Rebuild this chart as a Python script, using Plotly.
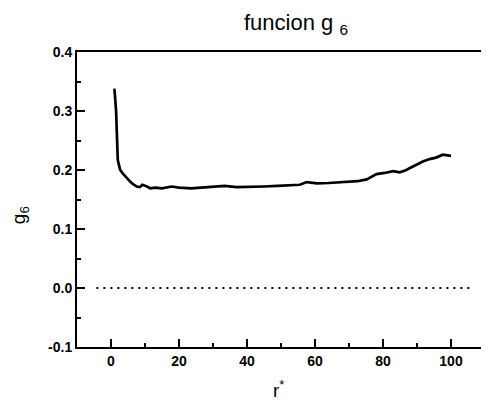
import plotly.graph_objects as go

# data
r_star = [1.0, 1.5, 1.75, 2.0, 2.4, 2.7, 3.5, 4.2, 5.0, 5.7, 6.5, 7.6, 8.5, 9.2, 10.2,
          11.5, 13, 15, 17.8, 20, 23.6, 26, 30, 33.4, 37, 41, 45, 49, 53, 55.5,
          57.6, 60.6, 64, 67.4, 70, 72.5, 75.2, 76.5, 78.1, 80.5, 83, 84.9, 86.5,
          87.8, 89.5, 91.7, 93.7, 95.6, 97.6, 98.5, 100]
g6 = [0.338, 0.300, 0.257, 0.217, 0.207, 0.200, 0.194, 0.189, 0.184, 0.180, 0.176,
      0.172, 0.171, 0.175, 0.173, 0.169, 0.170, 0.169, 0.172, 0.170, 0.169, 0.170,
      0.171, 0.173, 0.171, 0.171, 0.172, 0.173, 0.175, 0.175, 0.1795, 0.1775,
      0.178, 0.179, 0.180, 0.181, 0.184, 0.188, 0.193, 0.195, 0.198, 0.196, 0.199,
      0.203, 0.208, 0.2145, 0.2185, 0.221, 0.226, 0.225, 0.224]
zero_x = [-4.3, 105.5]
zero_y = [0.0, 0.0]

x_tickvals = [0, 20, 40, 60, 80, 100]
x_ticktext = ["0", "20", "40", "60", "80", "100"]
y_tickvals = [-0.1, 0.0, 0.1, 0.2, 0.3, 0.4]
y_ticktext = ["-0.1", "0.0", "0.1", "0.2", "0.3", "0.4"]

font_family = "Liberation Sans, Arial, sans-serif"

fig = go.Figure()
fig.add_trace(go.Scatter(x=zero_x, y=zero_y, mode="lines",
                         line=dict(color="black", width=2, dash="2px,5px"),
                         hoverinfo="skip", showlegend=False))
fig.add_trace(go.Scatter(x=r_star, y=g6, mode="lines",
                         line=dict(color="black", width=2.7),
                         showlegend=False))

axis_common = dict(showline=True, linecolor="black", linewidth=2, mirror=True,
                   ticks="inside", ticklen=8, tickwidth=2, tickcolor="black",
                   showgrid=False, zeroline=False,
                   tickfont=dict(family=font_family, size=14, color="black", weight="bold"))

fig.update_xaxes(range=[-10, 110], tickvals=x_tickvals, ticktext=x_ticktext,
                 minor=dict(ticks="inside", dtick=10, tick0=0, ticklen=4, tickwidth=2,
                            tickcolor="black"),
                 **axis_common)
fig.update_yaxes(range=[-0.1, 0.4], tickvals=y_tickvals, ticktext=y_ticktext,
                 minor=dict(ticks="inside", dtick=0.05, tick0=0, ticklen=4, tickwidth=2,
                            tickcolor="black"),
                 **axis_common)

fig.update_layout(
    width=481, height=392,
    margin=dict(l=69, r=2, t=44, b=53),
    paper_bgcolor="white", plot_bgcolor="white",
    font=dict(family=font_family, color="black"),
    annotations=[
        dict(text="funcion g <sub>6</sub>", xref="paper", yref="paper",
             x=0.537, y=1, yshift=28, xanchor="center", yanchor="middle",
             showarrow=False, font=dict(size=22, family=font_family, color="black")),
        dict(text="g<sub>6</sub>", xref="paper", yref="paper",
             x=0, y=0.447, xshift=-57, xanchor="center", yanchor="middle",
             textangle=-90, showarrow=False,
             font=dict(size=19, family=font_family, color="black")),
        dict(text="r<sup>*</sup>", xref="paper", yref="paper",
             x=0.495, y=0, yshift=-42, xanchor="center", yanchor="middle",
             showarrow=False, font=dict(size=19, family=font_family, color="black")),
    ],
)

fig.write_html("out.html")
